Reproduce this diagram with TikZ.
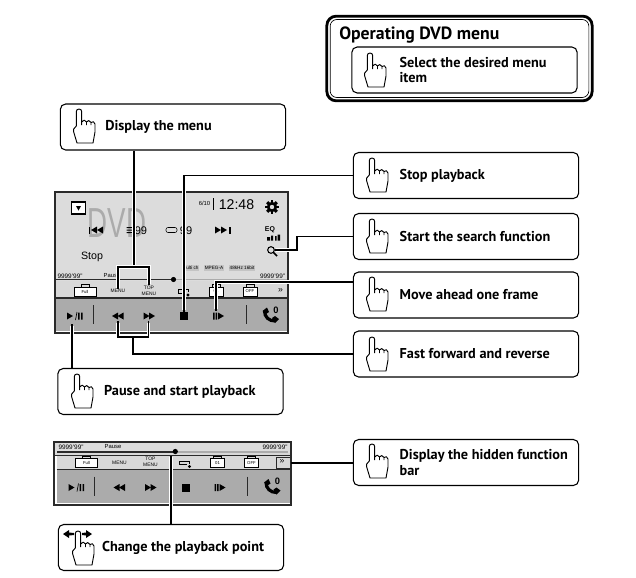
\documentclass[tikz,border=0pt]{standalone}
\usepackage{fontspec}
\setmainfont{Liberation Sans}
\newfontfamily\hintfont{PT Sans}
\usetikzlibrary{positioning}
\definecolor{screengray}{HTML}{DCDCDC}
\definecolor{rowgray}{HTML}{D8D8D8}
\definecolor{bandgray}{HTML}{ABABAB}
\definecolor{darkline}{HTML}{2A2A2A}
\tikzset{
  hintbox/.style={draw,fill=white,rounded corners=4pt,line width=0.8pt,minimum width=169pt,minimum height=34.5pt,inner sep=0pt},
  hinttext/.style={font=\hintfont\bfseries\fontsize{10.7}{11.4}\selectfont,align=left,inner sep=0pt},
  leader/.style={line width=1.1pt,preaction={draw=white,line width=2.6pt,shorten >=1pt,shorten <=1pt}},
  handline/.style={line width=0.7pt,fill=white,line join=round},
  spot/.style={minimum size=7.5pt,inner sep=0pt},
  tinylab/.style={font=\fontsize{3.7}{4.6}\selectfont,align=center,inner sep=0pt},
  fnbox/.style={draw,fill=white,line width=0.4pt,minimum height=6.75pt,minimum width=10.5pt,inner sep=0pt,font=\fontsize{3.2}{4}\selectfont},
  tagbox/.style={fill=bandgray!70,font=\fontsize{3.5}{4}\selectfont,minimum height=4pt,inner sep=0.4pt}
}
\newcommand{\handicon}[1]{%
  \draw[handline,shift={(#1)}] (-2.7,17) -- (-2.7,2.5) .. controls (-2.7,-0.8) and (2.7,-0.8) .. (2.7,2.5) -- (2.7,13)
    .. controls (3.5,10.5) and (7,10.5) .. (7.5,13) .. controls (8,11) and (11.5,11) .. (12,13.5)
    .. controls (13,12) and (16,12.5) .. (16,15) -- (16,23) -- (14,34) -- (-2,34) -- (-5.3,23) -- (-5.3,20) -- cycle
    (2.7,13) -- (2.7,16) (7.5,13) -- (7.5,16) (12,13.5) -- (12,16);}
\newcommand{\fwdtri}[2]{\fill (#1-3,#2-3.5) -- (#1+3,#2) -- (#1-3,#2+3.5) -- cycle;}
\newcommand{\revtri}[2]{\fill (#1+3,#2-3.5) -- (#1-3,#2) -- (#1+3,#2+3.5) -- cycle;}
\newcommand{\fntab}[1]{\draw[line width=0.4pt] (#1-4,287) -- (#1-4,284.5) -- (#1+4,284.5) -- (#1+4,287);}
\newcommand{\playerrows}[3]{%
  \begin{scope}[shift={(#2,#3)}]
    \fill[rowgray] (55,281) rectangle (288,298);
    \fill[bandgray] (55,298) rectangle (288,331);
    \draw[darkline,line width=1.1pt] (55,298) -- (288,298);
    \fntab{85}
    \fntab{216}
    \fntab{250}
    \node[fnbox,minimum width=16.5pt] (#1full) at (85,291.5) {Full};
    \node[tinylab] (#1menu) at (118,291) {MENU};
    \node[tinylab] (#1top) at (149,290.5) {TOP\\MENU};
    \draw[line width=0.7pt] (178,293) -- (178,289.5) -- (188,289.5) -- (188,292) (178,293) -- (185,293);
    \fill (188,295) circle (1.7);
    \node[spot] (#1rep) at (183,292) {};
    \node[fnbox] (#1one) at (216,291.5) {01};
    \node[fnbox] (#1off) at (250,291.5) {OFF};
    \node[tinylab,font=\fontsize{6.5}{6.5}\selectfont] (#1more) at (280.5,290.5) {>>};
    \node[spot,minimum size=12pt] (#1play) at (72,316) {};
    \fill (67,312.5) -- (73,316) -- (67,319.5) -- cycle;
    \draw[line width=0.5pt] (75.5,320) -- (77,312);
    \fill (78,312.5) rectangle (79.5,319.5) (81,312.5) rectangle (82.5,319.5);
    \draw[darkline,line width=0.7pt] (93,305) -- (93,324);
    \node[spot] (#1rew) at (118,316) {};
    \revtri{115}{316}
    \revtri{120.5}{316}
    \node[spot] (#1fwd) at (148.5,316) {};
    \fwdtri{146.5}{316}
    \fwdtri{152}{316}
    \node[spot,fill=black,minimum size=6pt] (#1stop) at (184,316) {};
    \node[spot] (#1frame) at (216,316) {};
    \fill (213,312.5) rectangle (214.5,319.5) (215.5,312.5) rectangle (217,319.5);
    \fill (218,312.5) -- (224,316) -- (218,319.5) -- cycle;
    \draw[darkline,line width=0.7pt] (246,305) -- (246,324);
    \node[spot] (#1phone) at (270,315) {};
    \draw[line width=2.4pt] (264.5,311) .. controls (264.5,317) and (269,321) .. (275,321);
    \fill (262.5,311) -- (267,307.5) -- (269,312) -- (266,314) -- cycle (272,318) -- (275,316) -- (279,319) -- (275,323) -- cycle;
    \node[inner sep=0pt,font=\bfseries\fontsize{7}{7}\selectfont] (#1zero) at (276,310) {0};
  \end{scope}}
\begin{document}
\begin{tikzpicture}[x=0.75pt,y=-0.75pt]
    \useasboundingbox (0,0) rectangle (636,578);

    % top panel
    \node[draw,fill=white,rounded corners=7pt,line width=2.1pt,minimum width=199pt,minimum height=63.5pt,inner sep=0pt] (panel) at (459.5,58.5) {};
    \node[draw,rounded corners=5pt,line width=0.5pt,minimum width=194pt,minimum height=58.5pt,inner sep=0pt] (panelin) at (panel) {};
    \node[hinttext,anchor=west,font=\hintfont\bfseries\fontsize{13.3}{15}\selectfont] (title) at (339,35) {Operating DVD menu};
    \node[hintbox,minimum width=169pt] (select) at (464.5,70) {};
    \node[hinttext,right=36pt of select.west] (selectt) {Select the desired menu\\item};
    \handicon{370,53}

    % first screen
    \fill[screengray] (55,193) rectangle (288,281);
    \node[font=\fontsize{31.5}{32}\selectfont,text=bandgray,xscale=0.66,inner sep=0pt] (dvd) at (117,223) {DVD};
    \node[draw,fill=white,line width=0.8pt,minimum width=11pt,minimum height=9pt,inner sep=0pt] (down) at (78.5,208) {};
    \fill (76,206) -- (81,206) -- (78.5,210.5) -- cycle;
    \node[inner sep=0pt,font=\fontsize{4.4}{5}\selectfont] (date) at (204.5,203) {6/10};
    \draw[line width=0.6pt] (213,198) -- (213,210);
    \node[inner sep=0pt,font=\fontsize{10.6}{12}\selectfont] (clock) at (236.5,205) {12:48};
    \foreach \a in {0,45,...,315} \draw[line width=2.2pt] (272,207) -- ++(\a:6.8);
    \fill (272,207) circle (5.2);
    \fill[screengray] (272,207) circle (2.2);
    \fill (88.5,226.5) rectangle (90,233.5);
    \revtri{94}{230}
    \revtri{100}{230}
    \fill (126.5,227) rectangle (133,228) (126.5,229.5) rectangle (133,230.5) (126.5,232) rectangle (133,233);
    \node[inner sep=0pt,font=\fontsize{8.3}{9}\selectfont] (chapter) at (141,230.5) {99};
    \draw[line width=0.4pt,rounded corners=1.5pt] (166,227.5) rectangle (177,232.5);
    \node[inner sep=0pt,font=\fontsize{8.3}{9}\selectfont] (track) at (186,230.5) {99};
    \fwdtri{218}{230}
    \fwdtri{224}{230}
    \fill (229,226.5) rectangle (230.5,233.5);
    \node[inner sep=0pt,font=\bfseries\fontsize{5.2}{6}\selectfont] (eq) at (270,230) {EQ};
    \fill (267,237) rectangle (270,240.5) (271,235.5) rectangle (273,240.5) (275,236) rectangle (276.5,240.5) (277.5,234.5) rectangle (280,240.5);
    \node[draw,circle,line width=0.8pt,minimum size=5pt,inner sep=0pt] (search) at (271,250) {};
    \draw[line width=1.1pt] (search.south east) -- (277,256);
    \node[inner sep=0pt,font=\fontsize{8}{9}\selectfont] (stoplabel) at (92,257) {Stop};
    \node[tagbox] (multi) at (190.5,268) {Multi ch};
    \node[tagbox] (mpeg) at (214,268) {MPEG-A};
    \node[tagbox] (khz) at (242,268) {48kHz 16bit};
    \node[inner sep=0pt,font=\fontsize{4.8}{5}\selectfont] (timea) at (70,276) {9999'99"};
    \node[inner sep=0pt,font=\fontsize{4.4}{5}\selectfont] (pausea) at (112,276) {Pause};
    \node[inner sep=0pt,font=\fontsize{4.8}{5}\selectfont] (timeb) at (272.5,276) {9999'99"};
    \draw[darkline,line width=0.9pt] (55,279.5) -- (173,279.5);
    \draw[bandgray,line width=0.9pt] (173,279.5) -- (288,279.5);
    \playerrows{a}{0}{0}
    \fill (173.5,279.5) circle (2.6);
    \node[draw=darkline,line width=1.9pt,minimum width=175pt,minimum height=105.5pt,inner sep=0pt] (screena) at (171.5,262.5) {};

    % second screen
    \fill[screengray] (55,443) rectangle (291,456);
    \playerrows{b}{1.5}{171.5}
    \node[draw=darkline,line width=1.3pt,minimum width=178pt,minimum height=47pt,inner sep=0pt] (screenb) at (172.5,473.5) {};
    \node[draw=darkline,line width=1.1pt,minimum width=177.5pt,minimum height=10pt,inner sep=0pt] (barb) at (172.5,449) {};
    \node[inner sep=0pt,font=\fontsize{4.8}{5}\selectfont] (timec) at (71,447) {9999'99"};
    \node[inner sep=0pt,font=\fontsize{4.4}{5}\selectfont] (pauseb) at (113,447) {Pause};
    \node[inner sep=0pt,font=\fontsize{4.8}{5}\selectfont] (timed) at (275,447) {9999'99"};
    \draw[darkline,line width=0.9pt] (57,452) -- (175,452);
    \draw[bandgray,line width=0.9pt] (175,452) -- (288,452);
    \fill (175.3,451.5) circle (2.6);
    \node[draw=darkline,line width=1pt,minimum width=10.5pt,minimum height=8.5pt,inner sep=0pt] (moreb) at (283.5,463) {};

    % hint boxes
    \node[hintbox] (disp) at (173,127) {};
    \node[hintbox] (stopb) at (466,175.5) {};
    \node[hintbox] (searchb) at (466,236.5) {};
    \node[hintbox] (moveb) at (466,295) {};
    \node[hintbox] (fastb) at (466,354) {};
    \node[hintbox] (pauseh) at (170.5,391.5) {};
    \node[hintbox] (hidden) at (466,462.5) {};
    \node[hintbox] (change) at (171,547.5) {};

    \node[hinttext,right=34pt of disp.west] (dispt) {Display the menu};
    \node[hinttext,right=35pt of stopb.west] (stopt) {Stop playback};
    \node[hinttext,right=35pt of searchb.west] (searcht) {Start the search function};
    \node[hinttext,right=35pt of moveb.west] (movet) {Move ahead one frame};
    \node[hinttext,right=35pt of fastb.west] (fastt) {Fast forward and reverse};
    \node[hinttext,right=35pt of pauseh.west] (pauset) {Pause and start playback};
    \node[hinttext,right=35pt of hidden.west] (hiddent) {Display the hidden function\\bar};
    \node[hinttext,right=33pt of change.west] (changet) {Change the playback point};

    \handicon{79,109}
    \handicon{372,158}
    \handicon{372,219}
    \handicon{372,277}
    \handicon{372,337}
    \handicon{77,374}
    \handicon{372,444}
    \handicon{78,531}
    \fill (63,534) -- (69,530) -- (69,532.5) -- (74,533) -- (74,535) -- (69,535.5) -- (69,538) -- cycle;
    \fill (92,534) -- (86,530) -- (86,532.5) -- (82,533) -- (82,535) -- (86,535.5) -- (86,538) -- cycle;

    % connectors
    \coordinate (menujoin) at (134,267);
    \coordinate (fastjoin) at (133,337);
    \coordinate (searchjog) at (297,250);
    \coordinate (changejoin) at (171,456);
    \draw[leader] (menujoin |- disp.south) -- (menujoin);
    \draw[leader] (amenu.north) -- (amenu.north |- menujoin) -- (atop.north |- menujoin) -- (atop.north);
    \draw[leader] (stopb.west) -- (astop |- stopb.west) -- (astop.north);
    \draw[leader] (searchb.west) -- (searchjog |- searchb.west) -- (searchjog) -- (search.east);
    \draw[leader] (moveb.west |- 0,282) -- (aframe |- 0,282) -- (aframe.north);
    \draw[leader] (arew.south) -- (arew |- fastjoin) -- (afwd |- fastjoin) -- (afwd.south);
    \draw[leader] (fastjoin) -- (fastjoin |- fastb.west) -- (fastb.west);
    \draw[leader] (pauseh.north -| aplay) -- (aplay.south);
    \draw[leader] (moreb.east) -- (hidden.west |- moreb.east);
    \draw[leader] (changejoin) -- (changejoin |- change.north);
\end{tikzpicture}
\end{document}
